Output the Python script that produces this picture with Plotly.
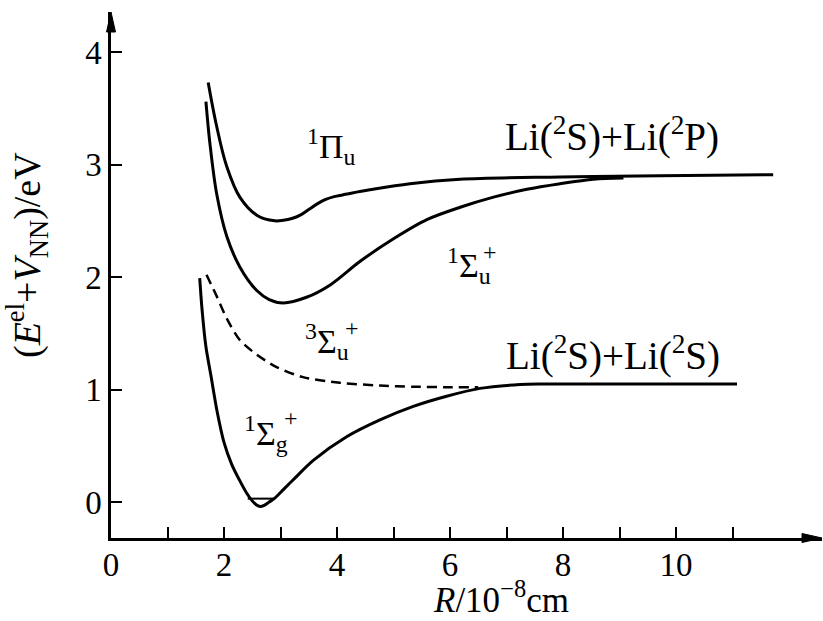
import plotly.graph_objects as go

# ---------------- data ----------------
# 1Pi_u  -> Li(2S)+Li(2P)
R_pi_u = [1.72, 1.87, 2.05, 2.28, 2.58, 2.90, 3.05, 3.20, 3.35, 3.50, 3.65, 3.80, 3.95, 4.10, 4.25, 4.58, 5.29, 6.18, 7.95, 9.72, 11.72]
E_pi_u = [3.73, 3.34, 2.98, 2.71, 2.55, 2.50, 2.505, 2.52, 2.55, 2.60, 2.65, 2.69, 2.715, 2.73, 2.745, 2.775, 2.83, 2.87, 2.89, 2.90, 2.91]

# 1Sigma_u+ -> Li(2S)+Li(2P)
R_sig_u1 = [1.68, 1.75, 1.87, 2.05, 2.28, 2.58, 2.80, 3.05, 3.46, 3.88, 4.41, 5.00, 5.59, 6.18, 6.77, 7.36, 7.95, 8.54, 9.07]
E_sig_u1 = [3.56, 3.19, 2.74, 2.36, 2.09, 1.88, 1.80, 1.77, 1.82, 1.93, 2.14, 2.34, 2.51, 2.62, 2.71, 2.78, 2.83, 2.87, 2.88]

# 3Sigma_u+ (dashed, repulsive)
R_sig_u3 = [1.69, 1.87, 2.05, 2.28, 2.58, 2.93, 3.40, 4.05, 4.76, 5.35, 6.00, 6.50]
E_sig_u3 = [2.02, 1.83, 1.63, 1.44, 1.31, 1.20, 1.11, 1.06, 1.035, 1.025, 1.02, 1.02]

# 1Sigma_g+ ground state -> Li(2S)+Li(2S)
R_sig_g = [1.57, 1.61, 1.68, 1.77, 1.88, 2.00, 2.14, 2.30, 2.40, 2.50, 2.57, 2.64, 2.71, 2.80, 2.90, 3.05, 3.23, 3.58, 4.17, 4.76, 5.35, 5.94, 6.53, 7.24, 7.60, 11.08]
E_sig_g = [1.99, 1.72, 1.38, 1.12, 0.80, 0.53, 0.33, 0.17, 0.08, 0.01, -0.025, -0.04, -0.03, 0.00, 0.035, 0.11, 0.20, 0.37, 0.58, 0.73, 0.85, 0.94, 1.01, 1.045, 1.05, 1.05]

# zero-point vibrational level of the ground state
R_v0 = [2.42, 2.90]
E_v0 = [0.03, 0.03]

x_tickvals = [0, 2, 4, 6, 8, 10]
x_ticktext = ["0", "2", "4", "6", "8", "10"]
x_minor = [1, 3, 5, 7, 9, 11]
y_tickvals = [0, 1, 2, 3, 4]
y_ticktext = ["0", "1", "2", "3", "4"]

# state / asymptote labels (the "+" of the Sigma terms is stacked over the subscript)
labels_text = ["<sup>1</sup>Π<sub>u</sub>", "Li(<sup>2</sup>S)+Li(<sup>2</sup>P)",
               "<sup>1</sup>Σ<sub>u</sub>", "<sup>3</sup>Σ<sub>u</sub>",
               "Li(<sup>2</sup>S)+Li(<sup>2</sup>S)", "<sup>1</sup>Σ<sub>g</sub>"]
labels_R = [3.89, 8.87, 6.34, 3.82, 8.88, 2.74]
labels_E = [3.16, 3.27, 2.10, 1.43, 1.32, 0.61]
plus_R = [6.71, 4.27, 3.19]
plus_E = [2.22, 1.55, 0.75]

# ---------------- figure ----------------
FONT = "Liberation Serif"
fig = go.Figure()

line_kw = dict(color="black", width=3)
fig.add_trace(go.Scatter(x=R_pi_u, y=E_pi_u, mode="lines", line=dict(**line_kw, shape="spline", smoothing=1.0)))
fig.add_trace(go.Scatter(x=R_sig_u1, y=E_sig_u1, mode="lines", line=dict(**line_kw, shape="spline", smoothing=0.9)))
fig.add_trace(go.Scatter(x=R_sig_u3, y=E_sig_u3, mode="lines",
                         line=dict(color="black", width=2.5, dash="10px,6px", shape="spline", smoothing=0.8)))
fig.add_trace(go.Scatter(x=R_sig_g, y=E_sig_g, mode="lines", line=dict(**line_kw, shape="spline", smoothing=0.8)))
fig.add_trace(go.Scatter(x=R_v0, y=E_v0, mode="lines", line=dict(color="black", width=2)))

for t, xr, ye in zip(labels_text, labels_R, labels_E):
    size = 39 if t.startswith("Li") else 34
    fig.add_annotation(x=xr, y=ye, xref="x", yref="y", text=t, showarrow=False,
                       font=dict(family=FONT, size=size, color="black"), xanchor="center", yanchor="middle")
for xr, ye in zip(plus_R, plus_E):
    fig.add_annotation(x=xr, y=ye, xref="x", yref="y", text="+", showarrow=False,
                       font=dict(family=FONT, size=24, color="black"), xanchor="center", yanchor="middle")

# axis titles
fig.add_annotation(x=(501 - 111) / 711, y=(538 - 621) / 526, xref="paper", yref="paper",
                   text="<i>R</i>/10<sup>−8</sup>cm", showarrow=False, borderpad=0,
                   font=dict(family=FONT, size=35, color="black"), xanchor="center", yanchor="bottom")
fig.add_annotation(x=(27 - 111) / 711, y=(538 - 255) / 526, xref="paper", yref="paper",
                   text="(<i>E</i><sup>el</sup>+<i>V</i><sub>NN</sub>)/eV", textangle=-90, showarrow=False,
                   font=dict(family=FONT, size=38, color="black"), xanchor="center", yanchor="middle")

# arrow heads on the axes
W, H = 711.0, 526.0
fig.add_shape(type="path", xref="paper", yref="paper",
              path=f"M 1 0 L {1 - 20 / W} {4.5 / H} L {1 - 20 / W} {-4.5 / H} Z",
              fillcolor="black", line=dict(color="black", width=1))
fig.add_shape(type="path", xref="paper", yref="paper",
              path=f"M 0 1 L {4.5 / W} {1 - 20 / H} L {-4.5 / W} {1 - 20 / H} Z",
              fillcolor="black", line=dict(color="black", width=1))

axis_common = dict(showgrid=False, zeroline=False, showline=True, linecolor="black", linewidth=2.5,
                   ticks="inside", ticklen=11, tickwidth=2, tickcolor="black",
                   tickfont=dict(family=FONT, size=33, color="black"))
fig.update_layout(
    width=823, height=621,
    margin=dict(l=111, r=1, t=12, b=83),
    paper_bgcolor="white", plot_bgcolor="white",
    showlegend=False,
    font=dict(family=FONT, color="black"),
    xaxis=dict(range=[0, 12.584], tickvals=x_tickvals, ticktext=x_ticktext, ticklabelstandoff=-4,
               minor=dict(tickvals=x_minor, ticks="inside", ticklen=11, tickwidth=2, tickcolor="black"),
               **axis_common),
    yaxis=dict(range=[-0.32, 4.356], tickvals=y_tickvals, ticktext=y_ticktext, **axis_common),
)

fig.write_html("out.html", config={"displayModeBar": False},
               post_script="document.body.style.margin='0';document.body.style.overflow='hidden';")
